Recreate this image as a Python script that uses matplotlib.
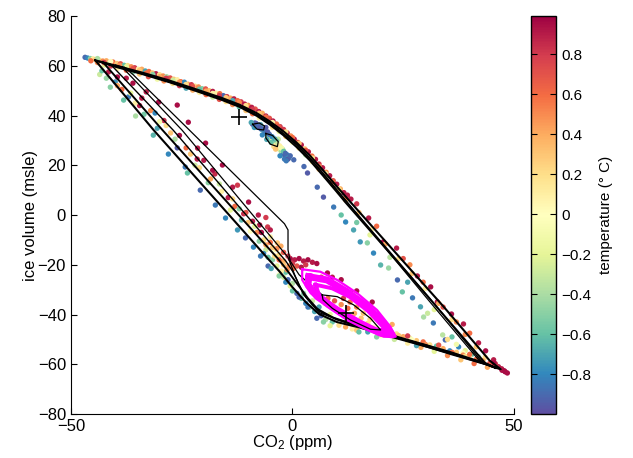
import matplotlib
matplotlib.use('Agg')
import matplotlib.pyplot as plt

plt.rcParams['font.family'] = ['Liberation Sans', 'DejaVu Sans']
plt.rcParams['mathtext.fontset'] = 'custom'
plt.rcParams['mathtext.rm'] = 'Liberation Sans'
plt.rcParams['mathtext.it'] = 'Liberation Sans'

# --- coloured model output: (co2, ice, temperature) ---
upper_x = [-46.8, -46.2, -45.6, -45.0, -44.4, -43.6, -42.8, -42.0, -41.2, -40.5,
           -39.6, -38.8, -38.0, -37.2, -36.4, -35.6, -34.8, -34.0, -33.2, -32.4,
           -31.6, -30.8, -30.0, -29.2, -28.4, -27.6, -26.8, -26.0, -25.2, -24.4,
           -23.6, -22.8, -22.0, -21.2, -20.4, -19.6, -18.8, -18.0, -17.2, -16.4,
           -15.6, -14.8, -14.0, -13.2, -12.4, -11.6, -10.8, -10.0, -9.2, -8.4,
           -7.6, -6.8, -6.0, -5.2, -4.4, -3.6, -2.8, -2.0, -1.2, -0.4,
           0.4, 1.2, 2.0, 2.8, 3.6, 4.4, 5.2, 6.0, 6.8, 7.6,
           8.4, 9.2, 10.0, 10.8, 11.6, 12.4, 13.2,
           -44.0, -42.5, -41.0, -39.5, -37.5, -36.0, -34.5, -32.5, -30.5, -29.0,
           -27.0, -25.5, -24.0, -22.5, -21.0, -19.5, -18.0, -16.5, -15.0, -13.5,
           -12.0, -10.5, -9.0, -7.5, -4.5, -3.0, -1.5, 0.0, 1.5, 3.0,
           4.5, 6.0, 7.5, 9.0, 10.5, 12.0]
upper_y = [63.4, 63.1, 62.9, 62.8, 62.5, 62.3, 61.9, 62.0, 61.4, 61.5,
           60.9, 60.8, 60.2, 60.1, 59.6, 59.2, 58.6, 58.6, 57.9, 57.7,
           57.1, 56.8, 56.4, 55.9, 55.6, 55.1, 54.6, 54.4, 53.6, 53.4,
           52.6, 52.4, 51.8, 51.5, 50.8, 50.7, 50.0, 49.7, 49.0, 48.8,
           48.0, 47.6, 47.0, 46.7, 46.0, 45.5, 44.6, 44.1, 43.3, 42.6,
           41.6, 40.9, 39.8, 38.9, 37.8, 36.6, 35.5, 34.4, 33.0, 31.8,
           30.5, 29.2, 28.2, 26.6, 25.4, 23.7, 22.4, 20.5, 19.0, 17.2,
           15.8, 13.8, 12.4, 10.5, 9.0, 7.4, 6.4,
           61.3, 60.3, 59.9, 58.9, 58.2, 57.5, 56.7, 55.6, 54.6, 53.9,
           52.9, 52.0, 51.0, 50.2, 49.3, 48.4, 47.4, 46.5, 45.6, 44.4,
           43.4, 42.0, 40.7, 39.0, 35.3, 33.6, 31.6, 29.2, 26.9, 24.2,
           21.4, 18.4, 15.4, 12.4, 9.2, 6.0]
upper_t = [-0.9, -0.8, -0.5, 0.1, 0.3, 0.2, 0.5, 0.4, -0.3, 0.6,
           0.3, 0.7, -0.6, 0.2, 0.5, 0.8, 0.1, 0.4, -0.7, 0.6,
           0.3, 0.9, 0.2, 0.5, -0.4, 0.7, 0.3, 0.1, 0.6, -0.8,
           0.4, 0.8, 0.2, 0.5, -0.5, 0.7, 0.3, 0.9, 0.1, 0.6,
           -0.9, 0.8, 0.4, 0.9, 0.6, 0.8, 0.9, 0.5, 0.9, 0.7,
           0.9, 0.4, 0.9, 0.7, 0.9, 0.6, 0.9, 0.8, 0.9, 0.5,
           0.9, 0.7, 0.9, 0.3, 0.9, 0.6, 0.9, 0.8, 0.9, 0.5,
           0.9, 0.7, 0.9, 0.4, 0.9, 0.8, 0.9,
           0.5, -0.2, 0.8, 0.1, 0.6, -0.5, 0.3, 0.7, -0.1, 0.5,
           0.2, 0.8, -0.7, 0.4, 0.1, 0.6, -0.3, 0.7, 0.2, 0.5,
           -0.6, 0.3, 0.6, 0.1, 0.2, -0.2, 0.3, 0.0, 0.2, -0.4,
           0.1, 0.3, -0.1, 0.2, 0.0, 0.3]

band_x = [-45.5, -44.0, -42.5, -41.0, -39.0, -37.5, -36.0, -34.5, -33.0, -31.5,
          -30.0, -28.5, -27.0, -25.5, -24.0, -22.5, -21.0, -19.5, -18.0, -16.5,
          -15.0, -13.5, -12.0, -10.5, -9.0, -7.5, -6.0, -4.5, -3.0, -1.5,
          0.0, 1.5, 3.0, 4.5, 6.0, 7.5, 9.0, 10.5, 12.0]
band_y = [62.0, 62.9, 61.3, 61.7, 60.2, 59.6, 58.9, 58.2, 57.0, 56.5,
          55.6, 55.0, 54.2, 53.4, 52.5, 51.7, 50.6, 49.8, 48.9, 48.0,
          47.2, 46.0, 45.3, 44.0, 42.5, 40.9, 39.4, 37.2, 35.6, 33.4,
          31.2, 28.8, 26.0, 22.9, 19.6, 16.6, 13.4, 10.4, 7.0]
band_t = [0.6, -0.4, 0.8, 0.0, 0.5, -0.2, 0.7, 0.3, 0.6, -0.5,
          0.4, 0.8, -0.3, 0.5, 0.2, 0.7, -0.6, 0.4, 0.1, 0.8,
          0.3, -0.7, 0.5, 0.2, 0.8, 0.3, 0.6, 0.1, 0.7, 0.2,
          0.6, 0.3, 0.7, 0.2, 0.5, 0.1, 0.6, 0.2, 0.5]

swirl_x = [-9.0, -8.5, -8.0, -7.5, -7.0, -8.6, -7.2, -6.5, -6.0, -5.5,
           -5.0, -4.5, -4.2, -3.8, -3.5, -3.0, -2.5, -2.0, -1.6, -1.2,
           -0.8, -1.8, -2.6, -4.8, -5.8, -3.2, -6.8, -2.2,
           -8.2, -7.8, -7.3, -6.8, -6.2, -5.6, -5.2, -4.6, -4.0, -3.6,
           -3.4, -2.9, -2.4, -2.0, -1.6, -1.0, -0.5, -2.8, -1.4, 0.3,
           -6.0, -9.3, -4.2, -3.8]
swirl_y = [36.5, 37.0, 36.0, 35.2, 34.5, 35.2, 36.3, 34.0, 33.0, 32.0,
           31.0, 30.0, 29.0, 28.0, 27.2, 26.5, 25.5, 24.5, 23.5, 24.2,
           23.0, 22.5, 27.2, 29.2, 30.4, 30.5, 32.2, 26.3,
           36.8, 35.8, 35.0, 34.6, 33.6, 33.4, 32.4, 31.5, 30.6, 29.8,
           28.6, 27.8, 26.8, 25.6, 24.8, 22.5, 23.8, 23.8, 21.8, 22.2,
           35.2, 37.2, 27.5, 26.5]
swirl_t = [-0.95, -0.9, -0.85, -0.9, -0.8, -0.75, -0.7, -0.6, -0.9, -0.5,
           -0.3, -0.2, -0.1, 0.1, 0.2, -0.2, -0.4, -0.9, -0.95, -0.8,
           -0.7, -0.85, 0.0, -0.6, -0.7, -0.3, -0.8, -0.5,
           -0.95, -0.9, -0.95, -0.9, -0.85, -0.95, -0.9, -0.8, -0.7, -0.6,
           -0.3, 0.1, -0.1, -0.6, -0.9, -0.95, -0.9, -0.8, -0.85, -0.9,
           -0.95, -0.7, 0.2, 0.3]

right_x = [2.6, 3.4, 5.6, 7.0, 9.3, 12.0, 13.8, 15.3, 16.9, 18.3,
           19.9, 21.7, 23.7, 24.8, 27.1, 28.9, 29.6, 31.8, 33.9, 34.5,
           30.5, 36.0, 37.5, 39.0, 40.5, 42.0, 11.0, 14.5, 17.5, 22.0,
           26.0, 32.0,
           12.4, 14.5, 17.2, 19.0, 20.5, 23.5, 25.0, 26.5, 28.2, 29.5,
           31.2, 32.7, 34.0, 35.9, 37.0, 38.6, 40.0, 42.0, 43.6, 45.4,
           45.8, 46.5, 47.3, 48.0, 48.5,
           15.0, 18.0, 21.0, 24.0, 27.0, 30.0, 33.0, 36.0, 39.0, 41.5,
           43.5, 37.0, 38.5, 35.0]
right_y = [19.5, 16.9, 11.2, 7.2, 3.2, -2.8, -6.0, -10.8, -11.2, -15.3,
           -20.1, -21.3, -26.1, -30.9, -33.3, -36.9, -41.0, -43.4, -48.2, -50.2,
           -39.5, -49.0, -53.0, -54.5, -56.0, -57.0, 0.0, -3.0, -8.0, -17.0,
           -27.0, -38.0,
           8.0, 4.5, -1.2, -4.5, -10.8, -13.3, -17.5, -20.0, -24.5, -27.0,
           -28.9, -34.9, -37.0, -39.8, -43.0, -43.8, -47.5, -51.4, -54.6, -58.2,
           -59.8, -61.0, -62.4, -63.0, -63.5,
           1.0, -5.5, -11.6, -17.5, -23.5, -29.5, -35.5, -42.0, -48.0, -53.0,
           -57.2, -52.0, -55.5, -50.0]
right_t = [-0.9, -0.95, -0.9, -0.95, -0.85, -0.8, -0.7, -0.75, -0.5, -0.8,
           -0.65, -0.45, -0.9, -0.6, -0.85, -0.7, -0.4, -0.85, -0.35, -0.9,
           -0.3, -0.6, -0.8, -0.2, -0.6, -0.4, -0.6, -0.55, -0.2, -0.35,
           -0.7, -0.2,
           0.9, 0.8, 0.9, 0.6, 0.95, 0.9, 0.7, 0.5, 0.9, 0.6,
           0.95, 0.9, 0.7, 0.95, 0.5, 0.9, 0.6, 0.9, 0.95, 0.9,
           0.8, 0.9, 0.95, 1.0, 0.95,
           0.3, 0.1, 0.4, 0.2, 0.3, 0.1, 0.4, 0.2, 0.5, 0.3,
           0.2, -0.1, 0.0, 0.2]

lower_x = [16.0, 17.5, 19.0, 20.5, 22.0, 23.5, 25.0, 26.5, 28.0, 29.5,
           31.0, 32.5, 34.0, 35.5, 37.0, 38.5, 40.0, 41.5, 43.0, 44.5,
           46.0, 47.2,
           17.0, 20.0, 23.0, 26.0, 29.0, 32.0, 35.0, 38.0, 41.0, 44.0,
           1.0, 2.0, 3.0, 4.0, 5.0, 6.5, 7.5, 9.0, 10.5, 12.0,
           13.5, 14.5, 0.0, -1.0, -2.0, -3.0, -1.5, -0.5, 2.5, 4.5,
           6.0, 8.5,
           18.0, 21.0, 24.0, 27.0, 30.0, 33.0, 36.0, 39.0, 42.0, 45.0,
           26.0, 33.0, 40.0, 45.5, 47.8, 15.0, 19.0, 28.0]
lower_y = [-44.2, -45.2, -45.6, -46.6, -47.2, -47.8, -48.9, -49.5, -50.5, -51.0,
           -52.2, -52.7, -53.7, -54.6, -55.2, -56.3, -57.0, -58.0, -58.6, -59.7,
           -60.8, -61.8,
           -47.0, -48.5, -50.0, -51.5, -53.2, -54.8, -56.5, -58.2, -59.7, -61.2,
           -31.5, -33.5, -35.5, -37.0, -38.8, -40.5, -42.0, -43.0, -44.3, -45.0,
           -45.8, -46.3, -27.5, -26.0, -25.0, -24.0, -23.0, -28.5, -31.5, -34.5,
           -37.0, -40.0,
           -46.0, -47.5, -49.0, -50.2, -52.0, -53.5, -55.2, -56.8, -58.5, -60.3,
           -48.6, -52.3, -56.0, -59.4, -62.6, -47.0, -49.0, -52.5]
lower_t = [0.2, 0.4, 0.1, 0.3, 0.5, 0.2, 0.4, -0.1, 0.3, 0.6,
           0.2, -0.6, 0.4, -0.8, 0.3, 0.5, 0.1, 0.6, 0.4, 0.7,
           0.8, 0.9,
           -0.7, 0.0, -0.3, 0.1, 0.4, -0.2, 0.5, 0.3, 0.6, 0.4,
           -0.9, -0.6, -0.8, -0.5, -0.7, -0.9, -0.4, -0.6, 0.2, 0.4,
           0.1, 0.3, -0.4, -0.9, -0.3, 0.0, -0.6, -0.2, -0.5, -0.3,
           -0.7, -0.2,
           0.5, -0.5, 0.6, 0.0, 0.5, 0.1, 0.6, 0.2, 0.5, 0.6,
           0.8, 0.7, 0.6, 0.95, 0.95, -0.6, -0.5, -0.7]

left_x = [-41.1, -38.1, -35.4, -30.5, -31.4, -28.0, -24.2, -23.7, -20.8, -17.4,
          -15.1, -12.4, -10.6, -8.8, -7.2, -43.5, -40.0, -42.0, -37.0, -33.5,
          -26.0, -22.0, -19.0, -14.0, -11.5, -9.5, -6.0, -5.5, -4.5,
          -37.5, -36.0, -33.0, -30.2, -26.0, -23.5, -21.4, -19.6, -15.8, -13.5,
          -12.4, -9.9, -7.7, -7.4, -5.6, -34.5, -29.0, -25.5, -20.0, -17.5,
          -14.5, -11.0, -9.0,
          -32.0, -27.5, -24.0, -21.0, -18.5, -16.0, -13.0, -10.0, -8.0, -6.5,
          -5.0, -3.4, -2.6, -4.0, -3.0, -2.0, -38.5, -35.5, -30.0,
          -43.0, -39.5, -36.5, -34.0, -31.0, -28.5, -26.5, -23.0, -21.5, -18.0,
          -16.5, -13.5, -12.0, -10.5, -8.5, -7.0, -5.0, -6.0, -41.5, -39.5]
left_y = [51.4, 46.2, 39.8, 34.9, 32.1, 24.5, 19.3, 16.9, 10.0, 4.0,
          -1.2, -6.0, -9.2, -12.9, -16.5, 56.5, 53.5, 55.0, 47.5, 40.5,
          27.0, 20.0, 13.0, 2.0, -2.0, -6.5, -14.0, -20.5, -18.0,
          55.0, 53.0, 49.5, 45.4, 44.2, 37.3, 26.9, 28.9, 20.1, 11.2,
          12.0, 5.2, 0.0, -4.0, -4.8, 44.0, 38.0, 32.0, 22.0, 16.5,
          7.0, 0.5, -2.5,
          42.0, 33.0, 27.0, 19.0, 14.5, 9.5, 3.5, -3.0, -7.0, -10.0,
          -8.8, -11.2, -12.5, -14.0, -16.0, -18.5, 50.5, 45.0, 37.5,
          58.0, 52.0, 49.0, 47.0, 41.0, 36.0, 30.5, 24.5, 22.5, 18.0,
          12.5, 6.5, 2.5, 1.0, -4.5, -7.0, -6.0, -1.0, 57.5, 55.5]
left_t = [-0.5, -0.6, -0.4, -0.7, -0.65, -0.8, -0.85, -0.6, -0.9, -0.85,
          -0.8, -0.75, -0.9, -0.8, -0.85, -0.3, -0.75, -0.45, -0.85, -0.55,
          -0.95, -0.3, -0.5, -0.2, -0.65, 0.0, -0.3, -0.9, -0.5,
          0.9, 0.95, 0.9, 0.95, 0.95, 0.95, 0.9, 0.95, 0.95, 0.9,
          0.8, 0.95, 0.9, 0.95, 0.8, 0.9, 0.85, 0.95, 0.9, 0.85,
          0.9, 0.85, 0.9,
          0.5, 0.3, 0.6, 0.2, 0.4, 0.1, 0.6, 0.3, 0.5, 0.2,
          0.1, 0.3, 0.4, 0.0, 0.2, 0.4, 0.6, 0.1, -0.1,
          -0.6, 0.4, -0.2, 0.9, -0.8, 0.2, -0.4, 0.3, 0.9, 0.95,
          -0.3, 0.2, -0.5, 0.7, -0.2, 0.95, 0.9, 0.8, 0.9, 0.95]

bend_x = [-0.5, 0.5, 1.5, 2.5, 3.5, 4.5, 5.5, 0.0, 1.0, 2.0,
          0.2, -0.8, 3.0, 7.9, 9.0, 11.0, 13.1, 14.5, 16.9, 19.2,
          21.0, 22.5, 24.0, 18.0, 6.5, 9.5,
          -6.0, -5.0, -4.5, -3.5, -4.0, -3.0, -2.0, -1.2, -2.5, -3.5,
          -5.5, -6.5, -4.8, -3.0, -1.5, 0.0, 1.5, 3.5, 5.5, 7.0,
          8.5, -7.5, -2.0, -1.0]
bend_y = [-17.5, -18.0, -17.5, -18.5, -18.0, -19.0, -19.5, -19.5, -20.5, -21.0,
          -21.5, -20.5, -20.0, -23.3, -25.0, -26.0, -31.3, -30.5, -36.8, -40.2,
          -46.2, -44.0, -48.5, -35.0, -25.0, -28.0,
          -12.0, -11.0, -13.0, -13.5, -16.5, -18.0, -20.0, -22.0, -22.5, -20.5,
          -17.0, -15.5, -21.5, -24.5, -27.0, -30.5, -33.0, -37.0, -41.5, -43.0,
          -44.5, -10.5, -15.0, -16.5]
bend_t = [0.95, 0.9, 0.95, 0.9, 0.95, 0.9, 0.95, 0.8, 0.7, 0.9,
          0.6, 0.5, 0.8, 0.95, 0.9, 0.95, 0.9, 0.95, 0.7, 0.8,
          0.6, 0.4, 0.3, 0.95, 0.7, 0.5,
          0.4, 0.6, 0.3, 0.5, 0.2, 0.6, 0.3, 0.5, 0.1, -0.2,
          -0.6, -0.8, -0.7, -0.5, -0.8, -0.6, -0.9, -0.85, -0.9, -0.5,
          -0.2, -0.5, 0.7, 0.8]

cycle_x = [8.0, 9.5, 11.0, 12.5, 14.0, 15.5, 17.0, 18.5, 10.5, 12.0,
           13.5, 15.0, 16.5, 7.5, 9.0, 11.5, 13.0, 14.5, 16.0, 17.5]
cycle_y = [-33.5, -34.5, -36.0, -37.5, -39.5, -41.5, -43.5, -45.0, -38.5, -40.5,
           -42.0, -43.5, -44.5, -35.5, -37.0, -33.5, -35.0, -37.0, -39.5, -42.0]
cycle_t = [0.6, 0.7, 0.5, 0.6, 0.4, 0.3, 0.2, 0.0, 0.8, 0.5,
           0.1, -0.2, -0.5, 0.9, 0.9, 0.8, 0.6, 0.5, 0.3, 0.2]

# --- black trajectories (co2, ice) ---
loop_a = [(-44.5, 62.2), (-40, 60.1), (-34, 57.3), (-28, 54.2), (-22, 50.7),
          (-16, 47.1), (-12, 44.4), (-8, 40.9), (-5, 37.5), (-2, 33.6),
          (1, 29.0), (4, 23.8), (7, 17.8), (10, 11.5), (13, 5.4),
          (34, -36.6), (44.5, -58.5), (47, -62.0), (43.1, -59.6), (35.7, -55.6),
          (22.8, -49.2), (15.3, -45.3), (10, -43.0), (6, -39.8), (3, -35.0),
          (0, -29.0), (-3, -22.5), (-5.3, -18.0), (-31.3, 34.1), (-44.5, 62.2)]
loop_b = [(-43.5, 61.6), (-40, 59.6), (-34, 56.7), (-28, 53.5), (-22, 50.0),
          (-16, 46.3), (-12, 43.5), (-8, 39.8), (-5, 36.2), (-2, 32.0),
          (1, 27.2), (4, 21.8), (7, 15.6), (10, 9.3), (12, 5.0),
          (32.5, -36.8), (43.5, -59.5), (46, -61.6), (42.5, -59.0), (35.5, -55.0),
          (22.8, -48.5), (15.3, -44.5), (10, -42.0), (6, -38.5), (3.5, -33.5),
          (1, -27.5), (-1.5, -21.5), (-3.3, -17.5), (-29.3, 34.1), (-42.8, 61.5)]
loop_c = [(-42, 61.0), (-34, 56.9), (-22, 50.3), (-16, 46.6), (-12, 43.9),
          (-8, 40.3), (-5, 36.7), (-2, 32.6), (1, 28.0), (4, 22.6),
          (7, 16.4), (10, 10.0), (31, -33.5), (42.5, -58.5), (45.5, -61.3),
          (40, -57.8), (30, -52.2), (22.8, -48.8), (15.3, -44.8), (9, -41.0),
          (5, -37.0), (3, -33.0), (1.5, -28.0), (0, -22.5), (-1.5, -18.5),
          (-26.9, 34.1), (-41, 60.5)]
loop_d = [(-40, 60.4), (-34, 57.0), (-22, 50.4), (-12, 44.1), (-5, 37.0),
          (1, 28.4), (5, 20.9), (9, 12.4), (30.5, -33.8), (42, -58.2),
          (44.5, -60.6), (36, -56.2), (22.8, -48.9), (12, -43.3), (6, -39.2),
          (2.5, -32.0), (0.5, -24.0), (-1, -17.0), (-24.9, 34.1), (-38.5, 59.6)]
drift = [(-38, 59.5), (-36, 56.5), (-1.8, -3.5), (-1.0, -6.0), (-1.0, -14.0),
         (-0.5, -18.5), (1.5, -24.0), (4, -28.0), (6.7, -32.1)]
inner = [(6.7, -32.1), (10.1, -32.8), (13.8, -36.1), (17.6, -41.5), (19.9, -46.2),
         (17.6, -45.9), (13.1, -42.2), (9.0, -37.5), (6.9, -34.1), (6.7, -32.1)]
small_1 = [(-9, 36.5), (-7.5, 37.0), (-6.3, 35.8), (-6.5, 34.2), (-8, 34.5), (-9, 36.5)]
small_2 = [(-6, 32.8), (-4.5, 32.0), (-3.2, 29.5), (-3.4, 27.5), (-5, 28.5),
           (-6, 31.0), (-6, 32.8)]

# --- limit cycle (magenta) ---
cycle_outer = [(2.2, -21.8), (6.3, -22.8), (10.1, -26.1), (14.6, -31.4), (19.1, -38.2),
               (22.1, -44.9), (23.3, -48.9), (20.6, -48.9), (16.9, -46.2), (12.3, -42.2),
               (7.8, -36.8), (4.1, -31.4), (2.2, -26.1), (2.2, -21.8)]
cycle_mid = [(3.7, -24.8), (7.8, -26.1), (12.3, -30.8), (16.9, -36.8), (20.6, -43.5),
             (22.5, -48.2), (19.9, -47.5), (15.3, -43.5), (10.1, -38.2), (5.6, -32.8),
             (3.5, -28.1), (3.7, -24.8)]
cycle_in = [(5.2, -28.0), (9.0, -29.5), (13.0, -33.0), (17.0, -38.5), (21.0, -46.0),
            (18.5, -46.5), (14.0, -42.0), (9.5, -37.0), (6.0, -32.0), (5.2, -28.0)]

fixed_x = [-12, 12]
fixed_y = [39.5, -39.5]


def main():
    fig = plt.figure(figsize=(6.33, 4.58), dpi=100)
    ax = fig.add_axes([0.112, 0.096, 0.700, 0.869])
    cax = fig.add_axes([0.839, 0.096, 0.0395, 0.869])

    xs = upper_x + band_x + swirl_x + right_x + lower_x + left_x + bend_x + cycle_x
    ys = upper_y + band_y + swirl_y + right_y + lower_y + left_y + bend_y + cycle_y
    ts = upper_t + band_t + swirl_t + right_t + lower_t + left_t + bend_t + cycle_t
    sc = ax.scatter(xs, ys, c=ts, cmap='Spectral_r', vmin=-1.0, vmax=0.99,
                    s=15, linewidths=0, zorder=2)

    for path, lw in [(loop_a, 1.5), (loop_b, 1.4), (loop_c, 1.0), (loop_d, 0.9),
                     (drift, 0.9), (small_1, 0.9), (small_2, 0.9)]:
        ax.plot([p[0] for p in path], [p[1] for p in path], color='black',
                lw=lw, zorder=3)

    for path, lw in [(cycle_outer, 1.6), (cycle_mid, 5.0), (cycle_in, 2.8)]:
        ax.plot([p[0] for p in path], [p[1] for p in path], color='#ff00ff',
                lw=lw, zorder=4)
    ax.plot([p[0] for p in inner], [p[1] for p in inner], color='black',
            lw=0.9, zorder=5)

    ax.plot(fixed_x, fixed_y, '+', color='black', ms=11, mew=1.2, zorder=6)

    ax.set_xlim(-50, 50)
    ax.set_ylim(-80, 80)
    ax.set_xticks([-50, 0, 50])
    ax.set_yticks(range(-80, 81, 20))
    ax.spines['top'].set_visible(False)
    ax.spines['right'].set_visible(False)
    ax.tick_params(direction='in', length=4, labelsize=12, width=0.8)
    ax.set_xlabel('CO$_2$ (ppm)', fontsize=12, labelpad=-1)
    ax.set_ylabel('ice volume (msle)', fontsize=12, labelpad=0)

    cb = fig.colorbar(sc, cax=cax)
    cb.set_ticks([-0.8, -0.6, -0.4, -0.2, 0, 0.2, 0.4, 0.6, 0.8])
    cb.set_ticklabels(['\u22120.8', '\u22120.6', '\u22120.4', '\u22120.2', '0',
                       '0.2', '0.4', '0.6', '0.8'])
    cax.tick_params(direction='in', length=4, labelsize=11, left=True, right=True)
    cb.outline.set_linewidth(1.0)
    cb.set_label('temperature (\u00b0 C)', fontsize=11, labelpad=6)

    fig.savefig('out.png', dpi=100)


if __name__ == '__main__':
    main()
